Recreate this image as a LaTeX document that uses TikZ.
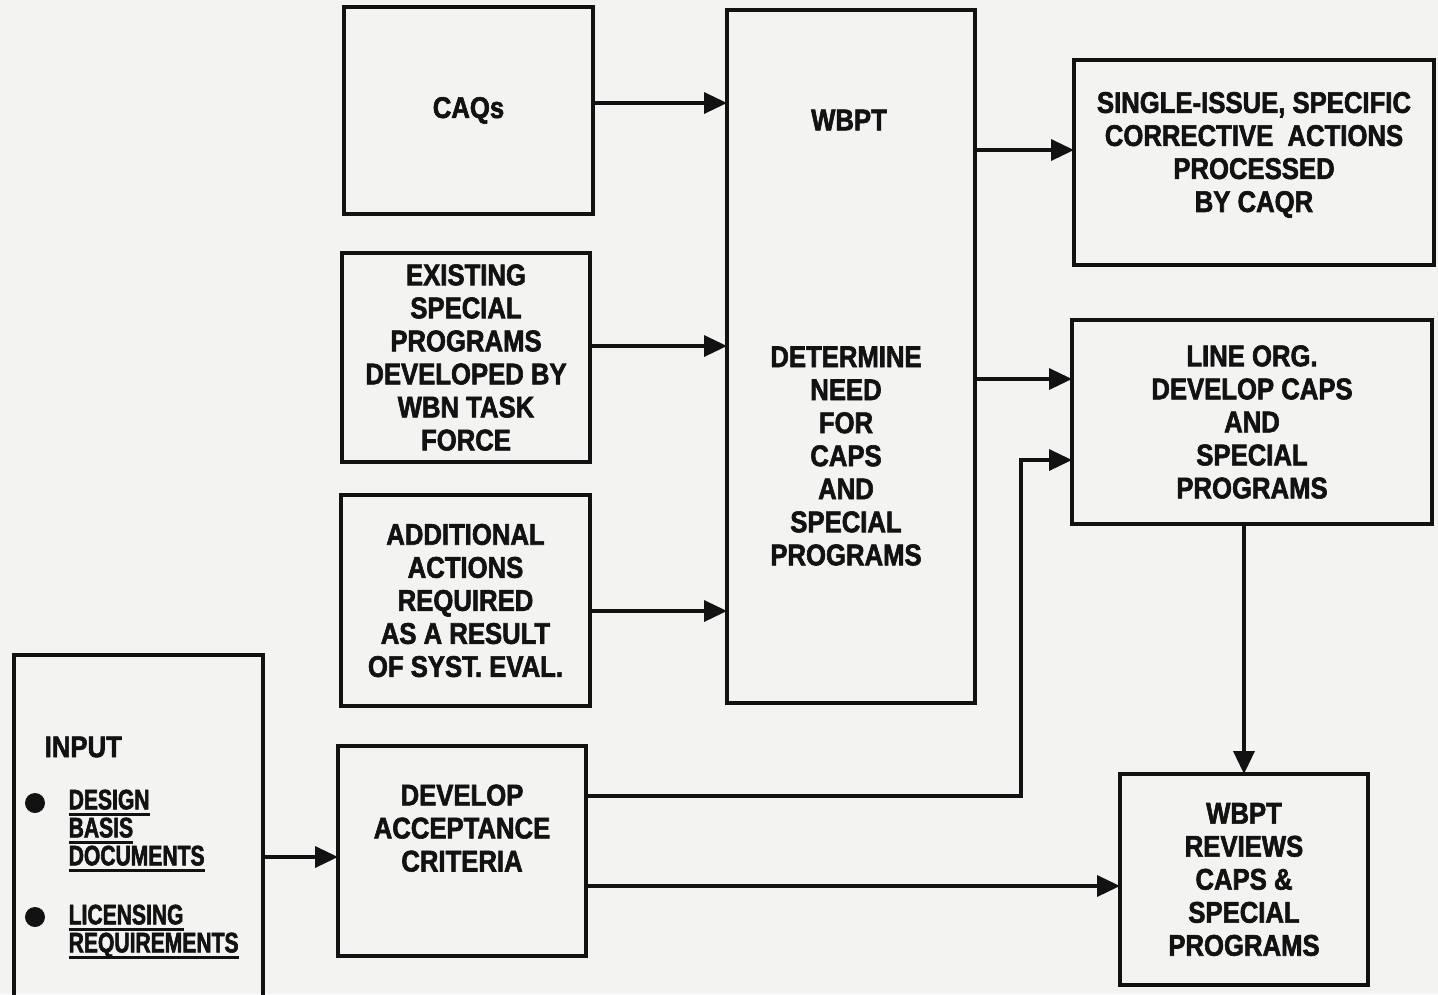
\documentclass[tikz,border=0pt]{standalone}
\usepackage{fontspec}
\setmainfont{Liberation Sans}[FakeStretch=0.86, BoldFont=Liberation Sans Bold, BoldFeatures={FakeBold=2}]
\newfontfamily\itemfont{Liberation Sans Bold}[FakeStretch=0.75, FakeBold=2]
\definecolor{scanpaper}{RGB}{243,243,241}
\definecolor{scanink}{RGB}{18,18,18}
\usetikzlibrary{arrows.meta,positioning}
\tikzstyle{block} = [draw=scanink, line width=1.2pt, rectangle, inner sep=0pt, outer sep=0pt, align=center, text=scanink, font=\fontsize{8.5}{9.4}\selectfont\bfseries]
\tikzstyle{tag} = [inner sep=0pt, align=center, text=scanink, font=\fontsize{8.5}{9.4}\selectfont\bfseries]
\tikzstyle{item} = [inner sep=0pt, align=left, text=scanink, font=\itemfont\fontsize{8}{7.97}\selectfont]
\tikzstyle{line} = [draw=scanink, line width=1pt, -{Triangle[length=2.3mm,width=2.1mm]}]
\newcommand{\ulword}[1]{\setbox0\hbox{#1}\rlap{\rule[-2pt]{\wd0}{0.9pt}}\box0}

\begin{document}
\begin{tikzpicture}[x=0.1mm,y=-0.1mm]
  \fill[scanpaper] (0,0) rectangle (1438,994);
  \useasboundingbox (0,0) rectangle (1438,994);

  % left column
  \node[block, minimum width=2.49cm, minimum height=2.07cm] (caqs) at (468.5,110.5) {\raisebox{0.6mm}{CAQs}};
  \node[block, minimum width=2.48cm, minimum height=2.09cm] (exist) at (466,357.5)
    {EXISTING\\SPECIAL\\PROGRAMS\\DEVELOPED BY\\WBN TASK\\FORCE};
  \node[block, minimum width=2.49cm, minimum height=2.11cm] (addl) at (465.5,600.5)
    {ADDITIONAL\\ACTIONS\\REQUIRED\\AS A RESULT\\OF SYST. EVAL.};
  \node[block, minimum width=2.48cm, minimum height=2.10cm] (devac) at (462,851)
    {DEVELOP\\ACCEPTANCE\\CRITERIA\\[1.3mm]};

  % input box, runs off the bottom
  \node[block, minimum width=2.49cm, minimum height=3.45cm] (input) at (138.5,827.5) {};
  \node[tag, anchor=west] (inputtitle) at (44,747) {INPUT};
  \fill[scanink] (35,803) circle (10);
  \fill[scanink] (35,917) circle (10);
  \node[item, anchor=west] (design) at (68,831)
    {\ulword{DESIGN}\\\ulword{BASIS}\\\ulword{DOCUMENTS}};
  \node[item, anchor=west] (licensing) at (68,932)
    {\ulword{LICENSING}\\\ulword{REQUIREMENTS}};

  % WBPT
  \node[block, minimum width=2.48cm, minimum height=6.93cm] (wbpt) at (851,356.5) {};
  \node[tag] (wbpttitle) at (849,120) {WBPT};
  \node[tag] (wbptneed) at (846,456)
    {DETERMINE\\NEED\\FOR\\CAPS\\AND\\SPECIAL\\PROGRAMS};

  % right column
  \node[block, minimum width=3.60cm, minimum height=2.05cm] (single) at (1254,162.5)
    {SINGLE-ISSUE, SPECIFIC\\CORRECTIVE\ \ ACTIONS\\PROCESSED\\BY CAQR\\[-1.2mm]};
  \node[block, minimum width=3.60cm, minimum height=2.04cm] (lineorg) at (1252,422)
    {LINE ORG.\\DEVELOP CAPS\\AND\\SPECIAL\\PROGRAMS};
  \node[block, minimum width=2.48cm, minimum height=2.11cm] (review) at (1244,879.5)
    {WBPT\\REVIEWS\\CAPS \&\\SPECIAL\\PROGRAMS};

  % connectors
  \coordinate (caqsout) at ([yshift=0.75mm]caqs.east);
  \coordinate (existout) at ([yshift=1.15mm]exist.east);
  \coordinate (addlout) at ([yshift=-1.05mm]addl.east);
  \coordinate (singlein) at ([yshift=1.25mm]single.west);
  \coordinate (lineorgin) at ([yshift=4.3mm]lineorg.west);
  \coordinate (devacup) at ([yshift=5.5mm]devac.east);
  \coordinate (devacdown) at ([yshift=-3.5mm]devac.east);
  \coordinate (inputout) at ([yshift=-0.6mm]devac.west);
  \coordinate (elbow) at (1021,460);

  \draw[line] (caqsout) -- (caqsout -| wbpt.west);
  \draw[line] (existout) -- (existout -| wbpt.west);
  \draw[line] (addlout) -- (addlout -| wbpt.west);
  \draw[line] (singlein -| wbpt.east) -- (singlein);
  \draw[line] (lineorgin -| wbpt.east) -- (lineorgin);
  \draw[line] (inputout -| input.east) -- (inputout);
  \draw[line] (devacup) -| (elbow) -- (elbow -| lineorg.west);
  \draw[line] (devacdown) -- (devacdown -| review.west);
  \draw[line] (review.north |- lineorg.south) -- (review.north);
\end{tikzpicture}
\end{document}
